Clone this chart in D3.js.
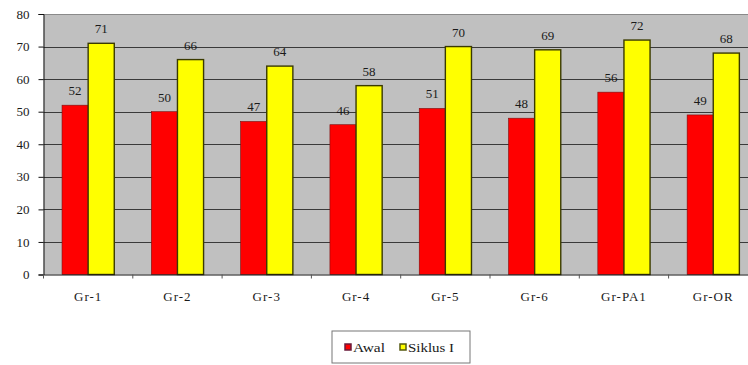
<!DOCTYPE html>
<html>
<head>
<meta charset="utf-8">
<script src="https://cdn.jsdelivr.net/npm/d3@7"></script>
<style>
  html, body { margin: 0; padding: 0; background: #fff; }
  svg { display: block; }
  svg text { font-family: "Liberation Serif", "Times New Roman", serif !important; fill: #1a1a1a; }
</style>
</head>
<body>
<svg id="chart" width="748" height="365"></svg>
<script>
// Groups and their scores at the start (Awal) and after cycle I (Siklus I)
const categories = ["Gr-1", "Gr-2", "Gr-3", "Gr-4", "Gr-5", "Gr-6", "Gr-PA1", "Gr-OR"];
const awal = [52, 50, 47, 46, 51, 48, 56, 49];
const siklus1 = [71, 66, 64, 58, 70, 69, 72, 68];
const seriesNames = ["Awal", "Siklus I"];
const yTicks = [0, 10, 20, 30, 40, 50, 60, 70, 80];

const svg = d3.select("#chart");
const plotLeft = 43.5, plotTop = 14, plotBottom = 274.5;
const step = 89.3;
const plotRight = plotLeft + step * categories.length;
const serif = "'Liberation Serif', 'Times New Roman', serif";

const x = d3.scaleBand().domain(categories).range([plotLeft, plotRight]).paddingInner(0.415).paddingOuter(0.2075);
const xs = d3.scaleBand().domain(seriesNames).range([0, x.bandwidth()]);
const y = d3.scaleLinear().domain([0, 80]).range([plotBottom, plotTop]);

// plot area
svg.append("rect").attr("x", plotLeft).attr("y", plotTop).attr("width", plotRight - plotLeft).attr("height", plotBottom - plotTop)
  .attr("fill", "#c0c0c0");

// gridlines
svg.append("g").selectAll("line").data(yTicks.filter(d => d > 0)).join("line")
  .attr("x1", plotLeft).attr("x2", plotRight)
  .attr("y1", d => Math.round(y(d)) + 0.5).attr("y2", d => Math.round(y(d)) + 0.5)
  .attr("stroke", d => d === 80 ? "#8a8a8a" : "#3a3a3a").attr("stroke-width", 1);

const data = categories.map((c, i) => ({ cat: c, vals: [
  { s: "Awal", v: awal[i] }, { s: "Siklus I", v: siklus1[i] } ] }));

const colors = { "Awal": "#ff0000", "Siklus I": "#ffff00" };
const strokes = { "Awal": "#7a1010", "Siklus I": "#3a3a00" };

const groups = svg.append("g").selectAll("g").data(data).join("g")
  .attr("transform", d => `translate(${x(d.cat)},0)`);

groups.selectAll("rect").data(d => d.vals).join("rect")
  .attr("x", d => xs(d.s)).attr("y", d => y(d.v))
  .attr("width", xs.bandwidth()).attr("height", d => plotBottom - y(d.v))
  .attr("fill", d => colors[d.s])
  .attr("stroke", d => strokes[d.s]).attr("stroke-width", d => d.s === "Awal" ? 0.6 : 1.4);

groups.selectAll("text").data(d => d.vals).join("text")
  .attr("x", d => xs(d.s) + xs.bandwidth() / 2).attr("y", d => y(d.v) - 10)
  .attr("text-anchor", "middle").style("font-size", "13px").style("font-family", serif)
  .text(d => d.v);

// y axis
const yAxis = d3.axisLeft(y).tickValues(yTicks).tickSize(5).tickPadding(9);
const ya = svg.append("g").attr("transform", `translate(${plotLeft},0)`).call(yAxis);
ya.attr("font-family", null);
ya.select(".domain").attr("stroke", "#111");
ya.selectAll(".tick line").attr("stroke", "#111");
ya.selectAll(".tick text").style("font-size", "13px").style("font-family", serif);

// x axis
const xAxis = d3.axisBottom(x).tickSize(0).tickPadding(17);
const xa = svg.append("g").attr("transform", `translate(0,${plotBottom})`).call(xAxis);
xa.attr("font-family", null);
xa.select(".domain").attr("stroke", "#111");
xa.selectAll(".tick text").style("font-size", "13px").style("letter-spacing", "1px").style("font-family", serif);
// tick marks between categories
xa.append("g").selectAll("line").data(d3.range(categories.length + 1)).join("line")
  .attr("x1", i => plotLeft + i * step).attr("x2", i => plotLeft + i * step)
  .attr("y1", 0).attr("y2", 4).attr("stroke", "#555");

// legend
const lg = svg.append("g").attr("transform", "translate(332,331)");
lg.append("rect").attr("width", 138).attr("height", 32).attr("fill", "#fff").attr("stroke", "#777");
const items = [{ s: "Awal", x: 13, w: 32 }, { s: "Siklus I", x: 68, w: 46 }];
items.forEach(it => {
  lg.append("rect").attr("x", it.x).attr("y", 13).attr("width", 6).attr("height", 6)
    .attr("fill", colors[it.s]).attr("stroke", it.s === "Awal" ? "#6a1a3a" : "#555a10").attr("stroke-width", 1.5);
  lg.append("text").attr("x", it.x + 8).attr("y", 20.5)
    .attr("textLength", it.w).attr("lengthAdjust", "spacingAndGlyphs")
    .style("font-size", "12px").style("font-family", serif).text(it.s);
});
</script>
</body>
</html>
